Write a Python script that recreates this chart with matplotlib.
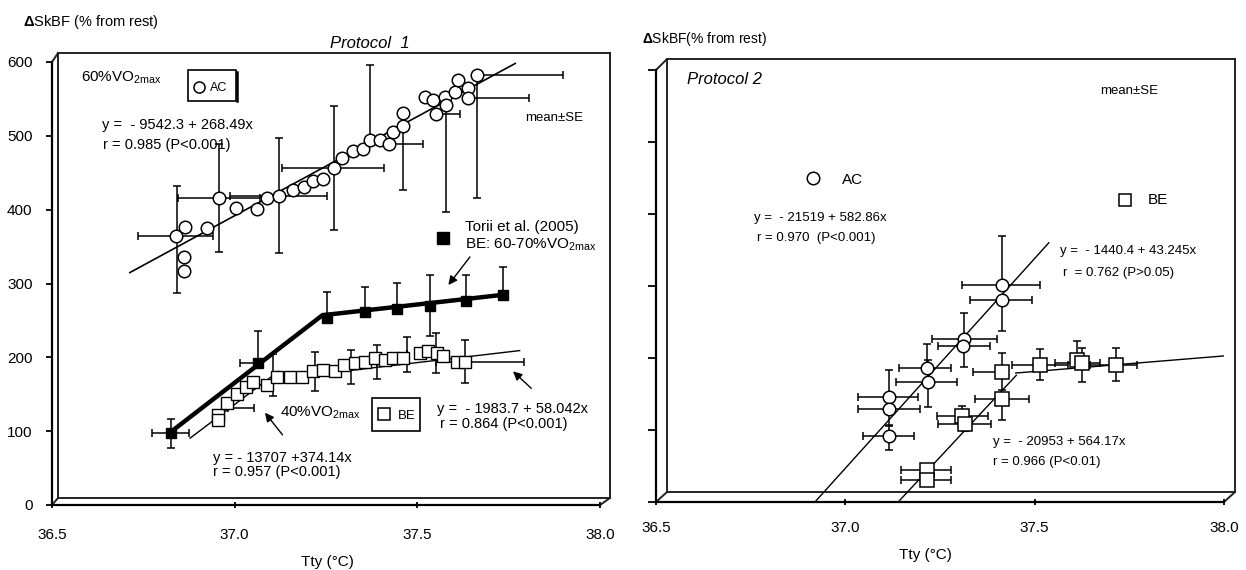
import matplotlib.pyplot as plt
from matplotlib.lines import Line2D
from matplotlib.patches import Rectangle
import numpy as np

plt.rcParams['font.family'] = ['Liberation Sans', 'DejaVu Sans']
plt.rcParams['mathtext.fontset'] = 'custom'
plt.rcParams['mathtext.rm'] = 'Liberation Sans'
plt.rcParams['mathtext.it'] = 'Liberation Sans:italic'
plt.rcParams['mathtext.bf'] = 'Liberation Sans:bold'
plt.rcParams['mathtext.default'] = 'regular'

W, H = 1246, 570

# axis ticks
x_ticks = [36.5, 37.0, 37.5, 38.0]
x_tick_labels = ['36.5', '37.0', '37.5', '38.0']
y_ticks = [0, 100, 200, 300, 400, 500, 600]

# ---------------- Protocol 1 ----------------
# AC (60%VO2max), open circles
p1_ac_x = [36.840, 36.864, 36.923, 36.862, 36.862, 36.958, 37.004, 37.060, 37.088, 37.122,
           37.161, 37.190, 37.215, 37.243, 37.272, 37.293, 37.323, 37.352, 37.370, 37.398,
           37.423, 37.433, 37.462, 37.462, 37.521, 37.544, 37.551, 37.576, 37.579, 37.603,
           37.612, 37.640, 37.639, 37.663]
p1_ac_y = [364, 376, 375, 336, 317, 416, 402, 401, 416, 418,
           427, 431, 439, 441, 456, 470, 479, 482, 495, 495,
           489, 505, 531, 513, 553, 549, 529, 553, 542, 560,
           576, 565, 551, 583]
# AC error bars (subset that is drawn)
p1_ac_eb_x = [36.841, 36.958, 37.122, 37.272, 37.370, 37.423, 37.462, 37.551, 37.579, 37.640, 37.663]
p1_ac_eb_y = [364, 416, 418, 456, 495, 489, 531, 529, 542, 551, 583]
p1_ac_eb_xlo = [0.105, 0.112, 0.135, 0.143, 0, 0, 0, 0, 0, 0, 0]
p1_ac_eb_xhi = [0.100, 0.110, 0.130, 0.138, 0, 0.093, 0, 0.066, 0, 0.165, 0.237]
p1_ac_eb_ylo = [77, 73, 77, 84, 0, 0, 104, 0, 145, 0, 167]
p1_ac_eb_yhi = [68, 73, 79, 85, 101, 0, 0, 0, 0, 0, 0]
p1_ac_fit = (-9542.3, 268.49)
p1_ac_fit_range = (36.713, 37.768)

# BE (40%VO2max), open squares
p1_be_x = [36.955, 36.955, 36.978, 37.006, 37.030, 37.051, 37.088, 37.115, 37.151, 37.184,
           37.215, 37.243, 37.275, 37.298, 37.330, 37.357, 37.384, 37.412, 37.434, 37.462,
           37.507, 37.530, 37.553, 37.571, 37.608, 37.631]
p1_be_y = [122, 115, 138, 151, 160, 167, 163, 174, 174, 174,
           181, 183, 181, 190, 192, 194, 199, 197, 199, 199,
           206, 208, 206, 202, 194, 194]
p1_be_eb_x = [36.983, 37.106, 37.220, 37.318, 37.389, 37.471, 37.551, 37.631]
p1_be_eb_y = [131, 176, 181, 187, 194, 204, 206, 194]
p1_be_eb_xlo = [0, 0, 0, 0, 0, 0, 0, 0.08]
p1_be_eb_xhi = [0.07, 0, 0, 0, 0, 0, 0, 0.16]
p1_be_eb_ylo = [0, 28, 26, 23, 23, 24, 27, 29]
p1_be_eb_yhi = [0, 28, 26, 23, 23, 24, 27, 29]
p1_be_fit_steep = (-13707, 374.14)
p1_be_fit_steep_range = (36.878, 37.12)
p1_be_fit_flat = (-1983.7, 58.042)
p1_be_fit_flat_range = (37.08, 37.78)

# Torii et al. (2005), BE 60-70%VO2max, filled squares
torii_x = [36.825, 37.065, 37.252, 37.357, 37.444, 37.535, 37.633, 37.735]
torii_y = [97, 193, 253, 262, 266, 270, 276, 285]
torii_xlo = [0.05, 0.05, 0, 0, 0, 0, 0, 0]
torii_xhi = [0.05, 0, 0, 0, 0, 0, 0, 0]
torii_ylo = [20, 0, 0, 0, 0, 41, 0, 0]
torii_yhi = [19, 42, 35, 33, 35, 42, 35, 38]
torii_line_x = [36.82, 37.24, 37.74]
torii_line_y = [97, 257, 285]

# ---------------- Protocol 2 ----------------
p2_ac_x = [37.116, 37.116, 37.116, 37.215, 37.217, 37.313, 37.311, 37.413, 37.413]
p2_ac_y = [146, 129, 91, 186, 166, 227, 216, 301, 281]
p2_ac_xlo = [0.083, 0.083, 0.069, 0.073, 0.084, 0.085, 0.065, 0.106, 0.083]
p2_ac_xhi = [0.076, 0.080, 0.066, 0.065, 0.077, 0.087, 0.070, 0.101, 0.079]
p2_ac_ylo = [39, 0, 19, 0, 34, 39, 0, 0, 44]
p2_ac_yhi = [37, 0, 14, 34, 31, 35, 0, 68, 0]
p2_ac_fit = (-21519, 582.86)
p2_ac_fit_yrange = (0, 360)

p2_be_x = [37.215, 37.215, 37.307, 37.316, 37.413, 37.413, 37.514, 37.611, 37.624, 37.714]
p2_be_y = [44, 31, 119, 109, 181, 143, 190, 197, 193, 190]
p2_be_xlo = [0.069, 0.069, 0.064, 0.07, 0.075, 0.071, 0.074, 0, 0.07, 0.068]
p2_be_xhi = [0.065, 0.065, 0.071, 0.07, 0, 0.073, 0.074, 0, 0.048, 0.055]
p2_be_ylo = [0, 0, 0, 10, 26, 29, 21, 0, 26, 22]
p2_be_yhi = [0, 0, 14, 0, 26, 0, 22, 27, 21, 24]
p2_be_fit_steep = (-20953, 564.17)
p2_be_fit_steep_yrange = (0, 176)
p2_be_fit_flat = (-1440.4, 43.245)
p2_be_fit_flat_range = (37.45, 38.0)


fig = plt.figure(figsize=(W / 100, H / 100), dpi=100)


def px_axes(x0, y0, x1, y1):
    # axes placed by pixel box (y measured from top)
    return fig.add_axes([x0 / W, 1 - y1 / H, (x1 - x0) / W, (y1 - y0) / H])


def ftext(x, y, s, **kw):
    kw.setdefault('fontsize', 10)
    fig.text(x / W, 1 - y / H, s, ha='left', va='center', **kw)


def fbox(x0, y0, x1, y1, shadow=False):
    fig.add_artist(Rectangle((x0 / W, 1 - y1 / H), (x1 - x0) / W, (y1 - y0) / H,
                             transform=fig.transFigure, fill=False, lw=1.2, ec='black'))
    if shadow:
        # heavier right edge like the original
        fig.add_artist(Line2D([(x1 + 0.5) / W] * 2, [1 - (y0 + 2) / H, 1 - y1 / H],
                              transform=fig.transFigure, lw=1.8, color='black'))


def fmarker(x, y, **kw):
    fig.add_artist(Line2D([x / W], [1 - y / H], transform=fig.transFigure, ls='none', **kw))


def frame(ax, dx, dy, right, top):
    # pseudo-3D back wall
    t = ax.transAxes
    segs = [([dx, right], [dy, dy]), ([dx, dx], [dy, top]), ([dx, right], [top, top]),
            ([right, right], [dy, top]), ([0, dx], [0, dy]), ([0, dx], [1, top]),
            ([1, right], [0, dy])]
    for xs, ys in segs:
        ax.add_line(Line2D(xs, ys, transform=t, color='#222222', lw=1.4, clip_on=False))


def style_axes(ax, ylabels):
    ax.set_xlim(36.5, 38.0)
    ax.set_ylim(0, 600)
    ax.spines['top'].set_visible(False)
    ax.spines['right'].set_visible(False)
    for s in ('left', 'bottom'):
        ax.spines[s].set_linewidth(1.6)
    ax.set_xticks(x_ticks)
    ax.set_xticklabels(x_tick_labels)
    ax.set_yticks(y_ticks)
    if ylabels:
        ax.set_yticklabels([str(v) for v in y_ticks])
    else:
        ax.set_yticklabels([])
    ax.tick_params(axis='x', direction='inout', length=5, width=1.3, pad=14, labelsize=11)
    ax.tick_params(axis='y', direction='out', length=4, width=1.3, pad=10, labelsize=11)
    ax.patch.set_alpha(0)


def ebar(ax, x, y, xlo, xhi, ylo, yhi):
    ax.errorbar(x, y, xerr=[xlo, xhi], yerr=[ylo, yhi], fmt='none', ecolor='black',
                elinewidth=1.1, capsize=2.6, capthick=1.1, zorder=2)


circ = dict(ls='none', marker='o', ms=9, mfc='white', mec='black', mew=1.1)
sq = dict(ls='none', marker='s', ms=8.5, mfc='white', mec='black', mew=1.0)

# ======== Protocol 1 ========
ax1 = px_axes(52, 62, 600, 505)
style_axes(ax1, True)
frame(ax1, 6 / 548, 7 / 443, 558 / 548, 452 / 443)

ebar(ax1, p1_ac_eb_x, p1_ac_eb_y, p1_ac_eb_xlo, p1_ac_eb_xhi, p1_ac_eb_ylo, p1_ac_eb_yhi)
ebar(ax1, p1_be_eb_x, p1_be_eb_y, p1_be_eb_xlo, p1_be_eb_xhi, p1_be_eb_ylo, p1_be_eb_yhi)
ebar(ax1, torii_x, torii_y, torii_xlo, torii_xhi, torii_ylo, torii_yhi)

xx = np.linspace(*p1_ac_fit_range, 50)
ax1.plot(xx, p1_ac_fit[0] + p1_ac_fit[1] * xx, color='black', lw=1.2, zorder=3)
xx = np.linspace(*p1_be_fit_steep_range, 20)
ax1.plot(xx, p1_be_fit_steep[0] + p1_be_fit_steep[1] * xx, color='black', lw=1.0, zorder=3)
xx = np.linspace(*p1_be_fit_flat_range, 20)
ax1.plot(xx, p1_be_fit_flat[0] + p1_be_fit_flat[1] * xx, color='black', lw=1.0, zorder=3)
ax1.plot(torii_line_x, torii_line_y, color='black', lw=3.2, zorder=3, solid_capstyle='butt')

ax1.plot(p1_ac_x, p1_ac_y, zorder=4, **circ)
ax1.plot(p1_be_x, p1_be_y, zorder=4, **sq)
ax1.plot(torii_x, torii_y, ls='none', marker='s', ms=7, mfc='black', mec='black', zorder=5)

arrow = dict(arrowstyle='-|>', color='black', lw=1.0, mutation_scale=13, shrinkA=0, shrinkB=0)
ax1.annotate('', xy=(37.585, 298), xytext=(37.644, 336), arrowprops=arrow)
ax1.annotate('', xy=(37.083, 125), xytext=(37.131, 95), arrowprops=arrow)
ax1.annotate('', xy=(37.762, 181), xytext=(37.812, 158), arrowprops=arrow)

ftext(23, 22, r'$\mathbf{\Delta}$SkBF (% from rest)', fontsize=10.5)
ftext(330, 43, 'Protocol  1', fontsize=12, style='italic')
ftext(81, 78, '60%VO$_{2max}$', fontsize=11)
fbox(188, 70, 236, 101, shadow=True)
fmarker(199, 87, marker='o', ms=8, mfc='white', mec='black', mew=1.1)
ftext(210, 88, 'AC', fontsize=9)
ftext(102, 125, 'y =  - 9542.3 + 268.49x', fontsize=10.5)
ftext(103, 145, 'r = 0.985 (P<0.001)', fontsize=10.5)
ftext(525, 118, 'mean±SE', fontsize=9.5)
fmarker(443, 238, marker='s', ms=8, mfc='black', mec='black')
ftext(465, 227, 'Torii et al. (2005)', fontsize=11)
ftext(465, 245, 'BE: 60-70%VO$_{2max}$', fontsize=11)
ftext(280, 413, '40%VO$_{2max}$', fontsize=11)
fbox(372, 398, 420, 431)
fmarker(384, 414, marker='s', ms=9, mfc='white', mec='black', mew=1.1)
ftext(398, 416, 'BE', fontsize=9.5)
ftext(437, 409, 'y =  - 1983.7 + 58.042x', fontsize=10.5)
ftext(440, 424, 'r = 0.864 (P<0.001)', fontsize=10.5)
ftext(213, 458, 'y = - 13707 +374.14x', fontsize=10.5)
ftext(213, 472, 'r = 0.957 (P<0.001)', fontsize=10.5)
fig.text(327 / W, 1 - 562 / H, 'Tty (°C)', ha='center', va='center', fontsize=11)

# ======== Protocol 2 ========
ax2 = px_axes(656, 70, 1224, 502)
style_axes(ax2, False)
ax2.tick_params(axis='y', length=6)
ax2.tick_params(axis='x', pad=11)
frame(ax2, 11 / 568, 10 / 432, 579 / 568, 443 / 432)

ebar(ax2, p2_ac_x, p2_ac_y, p2_ac_xlo, p2_ac_xhi, p2_ac_ylo, p2_ac_yhi)
ebar(ax2, p2_be_x, p2_be_y, p2_be_xlo, p2_be_xhi, p2_be_ylo, p2_be_yhi)

yy = np.array(p2_ac_fit_yrange, dtype=float)
ax2.plot((yy - p2_ac_fit[0]) / p2_ac_fit[1], yy, color='black', lw=1.0, zorder=3)
yy = np.array(p2_be_fit_steep_yrange, dtype=float)
ax2.plot((yy - p2_be_fit_steep[0]) / p2_be_fit_steep[1], yy, color='black', lw=1.0, zorder=3)
xx = np.array(p2_be_fit_flat_range)
ax2.plot(xx, p2_be_fit_flat[0] + p2_be_fit_flat[1] * xx, color='black', lw=1.0, zorder=3)

ax2.plot(p2_ac_x, p2_ac_y, zorder=4, **circ)
ax2.plot(p2_be_x, p2_be_y, zorder=4, ls='none', marker='s', ms=10, mfc='white', mec='black', mew=1.1)

ftext(642, 39, r'$\mathbf{\Delta}$SkBF(% from rest)', fontsize=10)
ftext(687, 80, 'Protocol 2', fontsize=12, style='italic')
ftext(1100, 91, 'mean±SE', fontsize=9.5)
fmarker(813, 178, marker='o', ms=9, mfc='white', mec='black', mew=1.1)
ftext(842, 180, 'AC', fontsize=11)
ftext(754, 218, 'y =  - 21519 + 582.86x', fontsize=9.5)
ftext(757, 238, 'r = 0.970  (P<0.001)', fontsize=9.5)
fmarker(1125, 200, marker='s', ms=9, mfc='white', mec='black', mew=1.1)
ftext(1148, 200, 'BE', fontsize=11)
ftext(1060, 251, 'y =  - 1440.4 + 43.245x', fontsize=9.5)
ftext(1063, 273, 'r  = 0.762 (P>0.05)', fontsize=9.5)
ftext(993, 442, 'y =  - 20953 + 564.17x', fontsize=9.5)
ftext(993, 462, 'r = 0.966 (P<0.01)', fontsize=9.5)
fig.text(925 / W, 1 - 555 / H, 'Tty (°C)', ha='center', va='center', fontsize=11)

fig.savefig('out.png', dpi=100, facecolor='white')
